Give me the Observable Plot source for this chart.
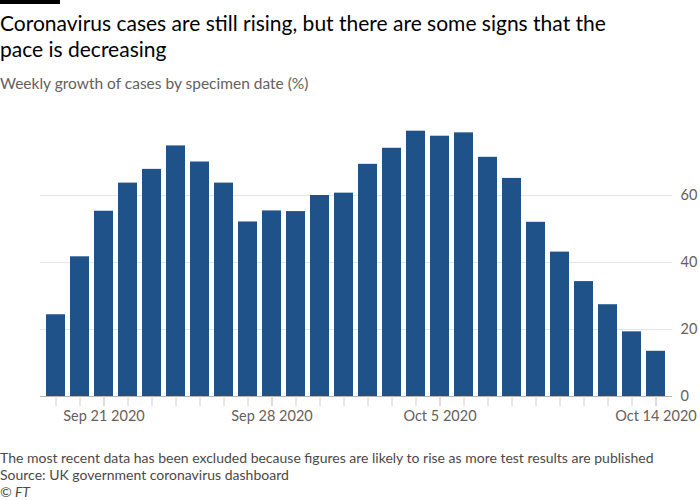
<!DOCTYPE html>
<html>
<head>
<meta charset="utf-8">
<script src="https://cdn.jsdelivr.net/npm/d3@7"></script>
<script src="https://cdn.jsdelivr.net/npm/@observablehq/plot@0.6"></script>
<style>
  html, body { margin: 0; padding: 0; background: #ffffff; }
  body { width: 700px; height: 500px; position: relative; overflow: hidden; font-family: Lato, "Noto Sans", sans-serif; }
  #bar { position: absolute; left: 0; top: 0; width: 60px; height: 4px; background: #000; }
  #title { position: absolute; left: 0; top: 10px; font-size: 21px; line-height: 26px; color: #000; width: 630px; }
  #subtitle { position: absolute; left: 0; top: 74px; font-size: 15.5px; color: #66605c; }
  #chart { position: absolute; left: 0; top: 100px; }
  #notes { position: absolute; left: 0; top: 449px; font-size: 14px; line-height: 17px; color: #4d4845; }
  #notes .ft { font-style: italic; }
</style>
</head>
<body>
<div id="bar"></div>
<div id="title">Coronavirus cases are still rising, but there are some signs that the pace is decreasing</div>
<div id="subtitle">Weekly growth of cases by specimen date (%)</div>
<div id="chart"></div>
<div id="notes">
  <div>The most recent data has been excluded because figures are likely to rise as more test results are published</div>
  <div>Source: UK government coronavirus dashboard</div>
  <div class="ft">© FT</div>
</div>
<script>
const dates = [
  "2020-09-19","2020-09-20","2020-09-21","2020-09-22","2020-09-23","2020-09-24","2020-09-25",
  "2020-09-26","2020-09-27","2020-09-28","2020-09-29","2020-09-30","2020-10-01","2020-10-02",
  "2020-10-03","2020-10-04","2020-10-05","2020-10-06","2020-10-07","2020-10-08","2020-10-09",
  "2020-10-10","2020-10-11","2020-10-12","2020-10-13","2020-10-14"
];
const growth = [
  24.4, 41.7, 55.3, 63.7, 67.8, 74.8, 70.0,
  63.7, 52.1, 55.4, 55.2, 60.0, 60.7, 69.3,
  74.1, 79.2, 77.7, 78.7, 71.4, 65.1, 52.0,
  43.1, 34.3, 27.4, 19.3, 13.5
];
const tickDates = ["2020-09-21", "2020-09-28", "2020-10-05", "2020-10-14"];
const tickLabels = ["Sep 21 2020", "Sep 28 2020", "Oct 5 2020", "Oct 14 2020"];
const yTicks = [0, 20, 40, 60];

const data = dates.map((d, i) => ({date: d, value: growth[i]}));
const labelOf = new Map(tickDates.map((d, i) => [d, tickLabels[i]]));

const chart = Plot.plot({
  width: 700,
  height: 330,
  marginLeft: 40,
  marginRight: 28,
  marginTop: 28,
  marginBottom: 34,
  style: {fontFamily: "Lato, 'Noto Sans', sans-serif", fontSize: "14.5px", color: "#66605c", background: "transparent"},
  x: {type: "band", domain: dates, padding: 0.2, label: null},
  y: {domain: [0, 80], label: null},
  marks: [
    Plot.gridY(yTicks.filter(t => t > 0), {stroke: "#e8e6e4", strokeOpacity: 1, strokeWidth: 1}),
    Plot.barY(data, {x: "date", y: "value", fill: "#1f5289"}),
    Plot.ruleY([0], {stroke: "#b8b4b0", strokeWidth: 1}),
    Plot.axisX({ticks: dates, tickSize: 10, stroke: "#d4d0cc", tickFormat: () => "", label: null}),
    Plot.axisX({ticks: tickDates, tickSize: 10, tickPadding: 4, stroke: "#d4d0cc", tickFormat: d => labelOf.get(d), fill: "#66605c", fontSize: 14.5, label: null}),
    Plot.axisY({ticks: yTicks, anchor: "right", tickSize: 0, tickPadding: 8, fill: "#66605c", fontSize: 14.5, label: null})
  ]
});
document.getElementById("chart").appendChild(chart);
</script>
</body>
</html>
